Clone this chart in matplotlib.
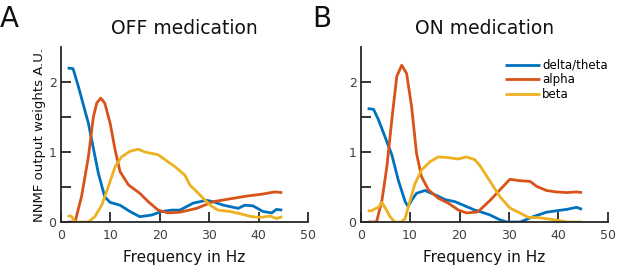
import matplotlib
matplotlib.use("Agg")
import matplotlib.pyplot as plt
import numpy as np

# ---- data ----
off_delta_f = [1.4, 2.5, 3.6, 5.6, 7.6, 8.9, 10.0, 12.0, 14.0, 16.0, 18.4, 20.4, 22.4, 24.1, 26.8, 29.5, 30.8, 32.9, 35.9, 37.2, 38.9, 40.9, 42.7, 43.6, 44.8]
off_delta_v = [2.20, 2.19, 1.93, 1.41, 0.70, 0.36, 0.28, 0.24, 0.15, 0.076, 0.10, 0.15, 0.17, 0.17, 0.27, 0.31, 0.29, 0.24, 0.195, 0.24, 0.23, 0.15, 0.13, 0.18, 0.17]

off_alpha_f = [1.4, 2.9, 4.2, 5.6, 6.6, 7.3, 8.1, 8.9, 10.0, 11.0, 12.0, 13.7, 16.0, 17.7, 19.7, 21.7, 24.1, 27.5, 30.8, 34.2, 37.6, 40.9, 43.3, 44.8]
off_alpha_v = [0.0, 0.0, 0.36, 0.93, 1.50, 1.70, 1.77, 1.70, 1.41, 1.03, 0.72, 0.53, 0.41, 0.29, 0.17, 0.13, 0.14, 0.195, 0.29, 0.33, 0.37, 0.40, 0.43, 0.42]

off_beta_f = [1.4, 2.2, 2.9, 3.9, 5.6, 6.9, 8.3, 9.6, 11.0, 12.3, 14.0, 15.7, 17.0, 18.4, 19.7, 21.1, 23.1, 25.1, 26.1, 28.1, 30.2, 31.8, 34.2, 36.2, 38.6, 40.6, 42.3, 43.6, 44.8]
off_beta_v = [0.09, 0.08, 0.0, 0.0, 0.0, 0.076, 0.24, 0.50, 0.79, 0.93, 1.01, 1.04, 1.00, 0.98, 0.96, 0.89, 0.79, 0.67, 0.53, 0.39, 0.24, 0.17, 0.15, 0.12, 0.076, 0.067, 0.086, 0.05, 0.076]

on_delta_f = [1.4, 2.6, 3.6, 4.9, 6.3, 7.6, 9.0, 9.6, 10.3, 11.3, 13.0, 15.0, 17.1, 19.1, 21.1, 23.1, 24.1, 26.2, 28.2, 29.6, 32.3, 34.9, 37.6, 39.6, 41.7, 43.7, 44.8]
on_delta_v = [1.62, 1.61, 1.46, 1.22, 0.96, 0.60, 0.29, 0.22, 0.31, 0.41, 0.45, 0.39, 0.32, 0.29, 0.23, 0.17, 0.15, 0.10, 0.03, 0.0, 0.0, 0.076, 0.14, 0.16, 0.18, 0.21, 0.18]

on_alpha_f = [1.4, 3.2, 4.3, 5.3, 6.3, 7.3, 8.3, 9.3, 10.3, 11.3, 12.3, 13.7, 15.7, 17.7, 19.8, 21.4, 23.4, 24.1, 26.2, 28.2, 30.2, 32.2, 34.3, 35.6, 37.6, 39.6, 41.7, 43.7, 44.8]
on_alpha_v = [0.0, 0.0, 0.31, 0.79, 1.46, 2.08, 2.24, 2.12, 1.65, 0.98, 0.65, 0.46, 0.34, 0.27, 0.17, 0.13, 0.14, 0.17, 0.31, 0.46, 0.61, 0.59, 0.58, 0.51, 0.45, 0.43, 0.42, 0.43, 0.42]

on_beta_f = [1.4, 2.2, 2.9, 3.6, 4.3, 4.9, 5.9, 6.9, 8.2, 9.0, 10.0, 11.0, 12.3, 14.0, 15.7, 17.7, 19.8, 21.4, 23.1, 24.1, 26.2, 28.2, 30.2, 32.2, 33.9, 36.3, 38.3, 40.3, 41.7, 44.8]
on_beta_v = [0.16, 0.16, 0.19, 0.21, 0.28, 0.21, 0.08, 0.0, 0.0, 0.05, 0.31, 0.55, 0.74, 0.86, 0.93, 0.92, 0.90, 0.93, 0.89, 0.81, 0.58, 0.36, 0.20, 0.13, 0.067, 0.06, 0.04, 0.02, 0.0, 0.0]

series_names = ["delta/theta", "alpha", "beta"]
titles = ["OFF medication", "ON medication"]
panel_letters = ["A", "B"]
x_ticks = [0, 10, 20, 30, 40, 50]
y_ticks = [0, 0.5, 1, 1.5, 2]
y_ticklabels = ["0", "", "1", "", "2"]

colors = ["#0072BD", "#D95319", "#EDB120"]

plt.rcParams['font.family'] = ['DejaVu Sans']

fig = plt.figure(figsize=(6.17, 2.69), dpi=100)
axA = fig.add_axes([60.7/617, 47/269, 247.3/617, 175/269])
axB = fig.add_axes([360.7/617, 47/269, 247.0/617, 175/269])

panels = [
    (axA, [(off_delta_f, off_delta_v), (off_alpha_f, off_alpha_v), (off_beta_f, off_beta_v)]),
    (axB, [(on_delta_f, on_delta_v), (on_alpha_f, on_alpha_v), (on_beta_f, on_beta_v)]),
]

for i, (ax, data) in enumerate(panels):
    for (f, v), c, name in zip(data, colors, series_names):
        ax.plot(f, v, color=c, lw=2.0, label=name, solid_capstyle='butt')
    ax.set_xlim(0, 50)
    ax.set_ylim(0, 2.5)
    ax.set_xticks(x_ticks)
    ax.set_yticks(y_ticks)
    ax.set_yticklabels(y_ticklabels)
    for s in ["top", "right"]:
        ax.spines[s].set_visible(False)
    for s in ["left", "bottom"]:
        ax.spines[s].set_color("#262626")
        ax.spines[s].set_linewidth(1.3)
    ax.tick_params(direction='in', length=7, width=1.3, colors="#262626",
                   labelcolor="#404040", labelsize=9)
    ax.tick_params(axis='x', pad=5)
    ax.tick_params(axis='y', pad=3)
    ax.set_xlabel("Frequency in Hz", fontsize=11, color="#111111", labelpad=6)
    ax.set_title(titles[i], fontsize=13.5, color="#111111", pad=9)

axA.set_ylabel("NNMF output weights A.U.", fontsize=9.5, color="#111111", labelpad=2)

fig.text(0/617, 1 - 27/269, panel_letters[0], fontsize=20, color="#111111", ha="left", va="baseline")
fig.text(312/617, 1 - 27/269, panel_letters[1], fontsize=20, color="#111111", ha="left", va="baseline")

axB.legend(loc="upper right", bbox_to_anchor=(1.02, 0.96), frameon=False, fontsize=8.5,
           handlelength=3.0, handletextpad=0.2, labelspacing=0.15, borderaxespad=0)

fig.savefig("out.png", dpi=100)
